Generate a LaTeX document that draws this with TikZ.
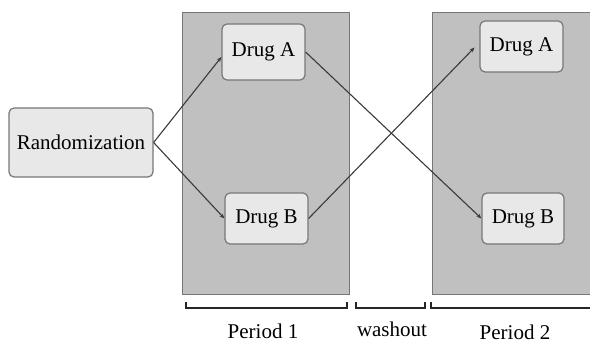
\documentclass[tikz,border=0pt]{standalone}
\usepackage{fontspec}
\setmainfont{Liberation Serif}
\newfontfamily\labelfont{Liberation Serif}
\usetikzlibrary{arrows.meta}
\definecolor{panelgray}{HTML}{C0C0C0}
\definecolor{boxgray}{HTML}{E8E8E8}
\definecolor{edgegray}{HTML}{777777}
\definecolor{linegray}{HTML}{3A3A3A}
\begin{document}
\begin{tikzpicture}[x=1pt,y=-1pt,
  panel/.style={draw=edgegray,fill=panelgray,line width=1.2pt,inner sep=0pt,anchor=north west},
  drugbox/.style={draw=edgegray,fill=boxgray,rounded corners=5pt,line width=1.2pt,
    font=\labelfont\fontsize{21}{25}\selectfont,inner sep=0pt},
  conn/.style={draw=linegray,line width=1.1pt,-{Stealth[length=5pt,width=4pt]}},
  bracket/.style={draw=black!85,line width=1.6pt},
  lbl/.style={font=\labelfont\fontsize{21}{25}\selectfont,inner sep=0pt}]
  \useasboundingbox (0,0) rectangle (590,344);
  % treatment periods
  \node[panel,minimum width=167pt,minimum height=282pt] (p1) at (182,12) {};
  \node[panel,minimum width=158pt,minimum height=282pt] (p2) at (432,12) {};
  % boxes
  \node[drugbox,minimum width=144pt,minimum height=69pt] (rand) at (81,142.5) {Randomization};
  \node[drugbox,minimum width=83pt,minimum height=56pt] (a1) at (263.5,52) {Drug A};
  \node[drugbox,minimum width=83pt,minimum height=51pt] (b1) at (266.5,218.5) {Drug B};
  \node[drugbox,minimum width=83pt,minimum height=51pt] (a2) at (521.5,46.5) {Drug A};
  \node[drugbox,minimum width=82pt,minimum height=51pt] (b2) at (523,218.5) {Drug B};
  % allocation and crossover
  \draw[conn] (rand.east) -- ([yshift=-5pt]a1.west);
  \draw[conn] (rand.east) -- (b1.west);
  \draw[conn] (a1.east) -- (b2.west);
  \draw[conn,shorten >=7pt] (b1.east) -- ([yshift=4pt]a2.west);
  % period brackets
  \coordinate (q1l) at (186,302); \coordinate (q1r) at (347,302);
  \coordinate (q2l) at (356,302); \coordinate (q2r) at (425,302);
  \coordinate (q3l) at (431,302); \coordinate (q3r) at (592,302);
  \draw[bracket] (q1l) -- ++(0,6) -| (q1r);
  \draw[bracket] (q2l) -- ++(0,6) -| (q2r);
  \draw[bracket] (q3l) -- ++(0,6) -| (q3r);
  \node[lbl] (t1) at (263,331) {Period 1};
  \node[lbl] (t2) at (392,329) {washout};
  \node[lbl] (t3) at (515,332) {Period 2};
\end{tikzpicture}
\end{document}
